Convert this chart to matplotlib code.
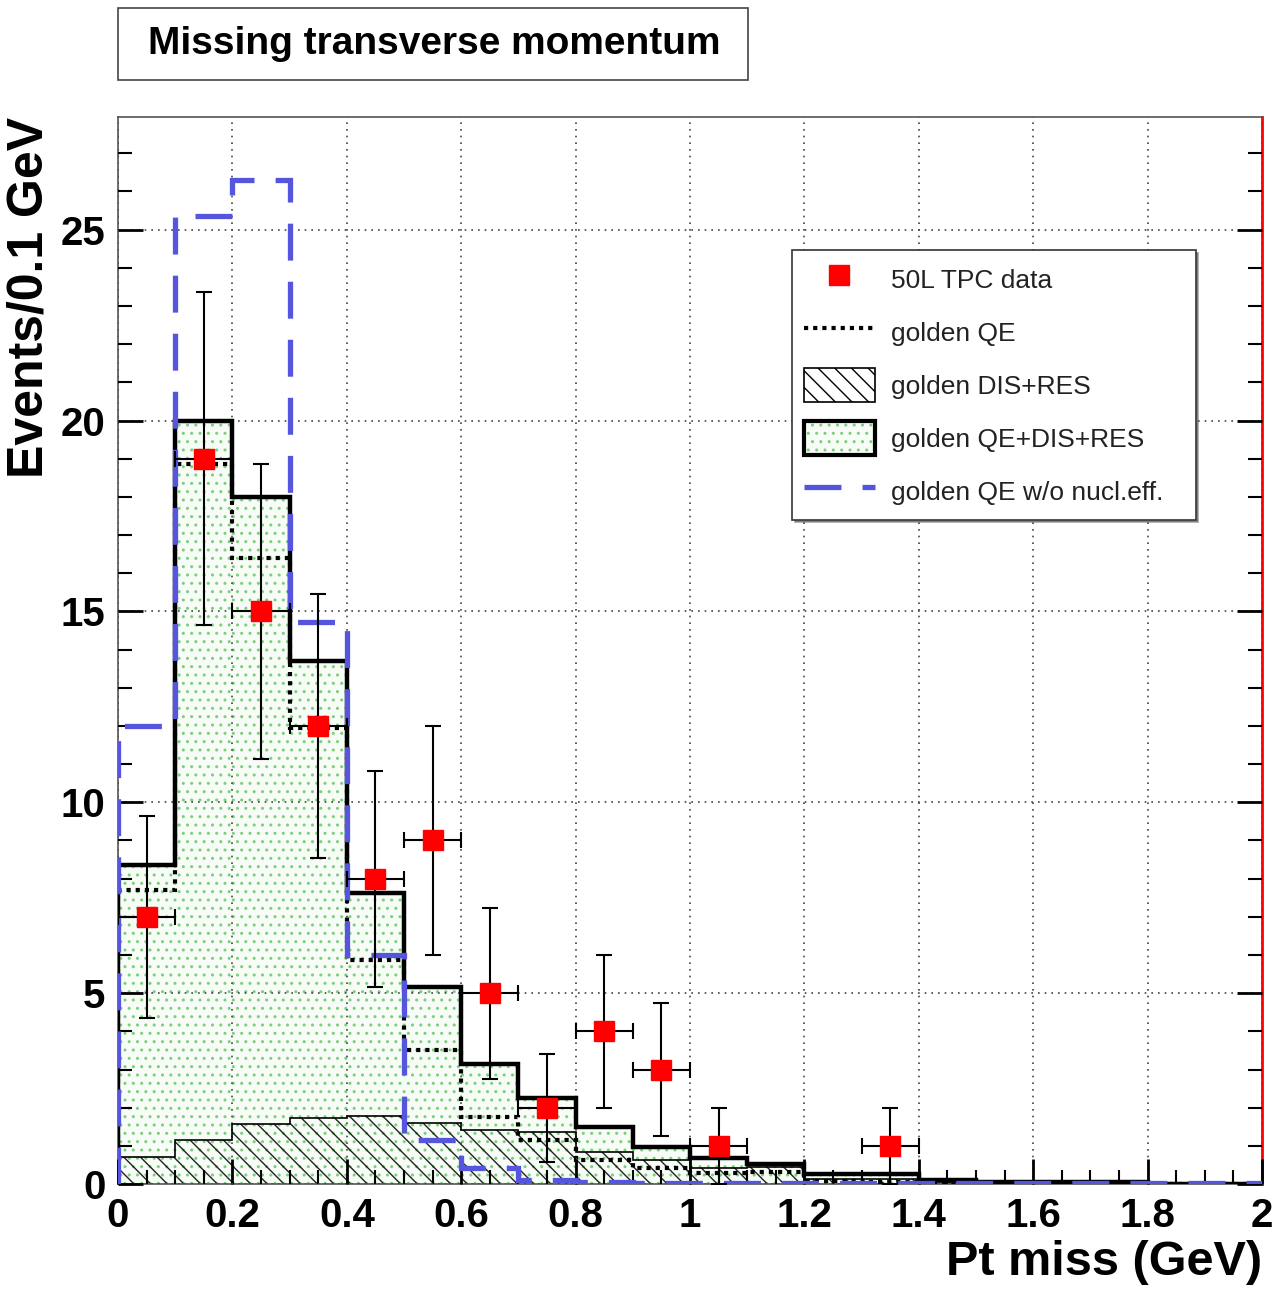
import numpy as np
import matplotlib
matplotlib.use("Agg")
import matplotlib.pyplot as plt
from matplotlib.patches import Rectangle
from matplotlib.lines import Line2D
from matplotlib.legend_handler import HandlerTuple
from matplotlib.ticker import MultipleLocator

plt.rcParams['font.family'] = ['Liberation Sans', 'DejaVu Sans']
plt.rcParams['hatch.linewidth'] = 1.0

# bin edges (GeV)
bin_edges = [0.0, 0.1, 0.2, 0.3, 0.4, 0.5, 0.6, 0.7, 0.8, 0.9, 1.0,
             1.1, 1.2, 1.3, 1.4, 1.5, 1.6, 1.7, 1.8, 1.9, 2.0]

# golden QE+DIS+RES (total)
total = [8.35, 20.0, 18.0, 13.7, 7.63, 5.16, 3.14, 2.25, 1.5, 0.97,
         0.68, 0.52, 0.26, 0.27, 0.1, 0.06, 0.05, 0.05, 0.0, 0.0]
# golden QE
qe = [7.7, 18.85, 16.4, 11.95, 5.87, 3.5, 1.75, 1.15, 0.63, 0.42,
      0.29, 0.31, 0.08, 0.06, 0.04, 0.03, 0.03, 0.02, 0.0, 0.0]
# golden DIS+RES
dis_res = [0.7, 1.15, 1.57, 1.73, 1.78, 1.6, 1.41, 1.36, 0.83, 0.63,
           0.42, 0.45, 0.12, 0.12, 0.05, 0.04, 0.03, 0.03, 0.0, 0.0]
# golden QE w/o nuclear effects
qe_nonuc = [12.0, 25.37, 26.3, 14.73, 6.0, 1.15, 0.42, 0.1, 0.04, 0.03,
            0.03, 0.03, 0.02, 0.02, 0.02, 0.02, 0.02, 0.02, 0.02, 0.02]

# 50L TPC data
data_x = [0.05, 0.15, 0.25, 0.35, 0.45, 0.55, 0.65, 0.75, 0.85, 0.95, 1.05, 1.35]
data_y = [7, 19, 15, 12, 8, 9, 5, 2, 4, 3, 1, 1]
data_err = [2.65, 4.36, 3.87, 3.46, 2.83, 3.0, 2.24, 1.41, 2.0, 1.73, 1.0, 1.0]
data_xerr = 0.05

fig = plt.figure(figsize=(12.76, 12.96), dpi=100)
ax = fig.add_axes([0.0925, 0.0864, 0.8965, 0.8233])

green = '#7ccf7c'
blue = '#5555dd'
fill_bg = '#f7fcf7'

# total: dotted green fill
ax.stairs(total, bin_edges, fill=True, facecolor=fill_bg, edgecolor=green,
          hatch='..', linewidth=0, zorder=1)
# DIS+RES hatched
ax.stairs(dis_res, bin_edges, fill=True, facecolor='none', edgecolor='#222222',
          hatch='\\\\', linewidth=0, zorder=2)
ax.stairs(dis_res, bin_edges, color='black', linewidth=1.2, zorder=3)
# QE dotted
ax.stairs(qe, bin_edges, color='black', linewidth=3, linestyle=(0, (1, 1.2)), zorder=4)
# total outline
ax.stairs(total, bin_edges, color='black', linewidth=3.2, zorder=5)
# QE without nuclear effects
ax.stairs(qe_nonuc, bin_edges, color=blue, linewidth=3.8, linestyle=(0, (7, 4)), zorder=6)

# data
ax.errorbar(data_x, data_y, yerr=data_err, xerr=data_xerr, fmt='none',
            ecolor='black', elinewidth=1.5, capsize=6, capthick=1.5, zorder=7)
ax.plot(data_x, data_y, 's', color='red', markersize=15, zorder=8)

ax.set_xlim(0, 2)
ax.set_ylim(0, 27.95)

ax.xaxis.set_major_locator(MultipleLocator(0.2))
ax.xaxis.set_minor_locator(MultipleLocator(0.05))
ax.yaxis.set_major_locator(MultipleLocator(5))
ax.yaxis.set_minor_locator(MultipleLocator(1))
ax.set_xticks([0, 0.2, 0.4, 0.6, 0.8, 1.0, 1.2, 1.4, 1.6, 1.8, 2.0])
ax.set_xticklabels(['0', '0.2', '0.4', '0.6', '0.8', '1', '1.2', '1.4', '1.6', '1.8', '2'])
ax.tick_params(axis='both', which='both', direction='in', right=True, top=False)
ax.tick_params(axis='both', which='major', length=18, width=2, labelsize=29, pad=9)
ax.tick_params(axis='both', which='minor', length=10, width=1.5)
for lab in ax.get_xticklabels() + ax.get_yticklabels():
    lab.set_fontweight('bold')

ax.grid(True, which='major', color='#444444', linestyle=(0, (1, 3)), linewidth=1.2)
ax.set_axisbelow(False)

for s in ax.spines.values():
    s.set_linewidth(1.2)
    s.set_color('#555555')
ax.spines['right'].set_color('red')
ax.spines['right'].set_linewidth(2)

ax.set_ylabel('Events/0.1 GeV', fontsize=36, fontweight='bold', loc='top', labelpad=6)
ax.set_xlabel('Pt miss (GeV)', fontsize=35, fontweight='bold', loc='right', labelpad=4)

# legend
total_handle = (Rectangle((0, 0), 1, 1, facecolor=fill_bg, edgecolor=green, hatch='..', linewidth=0),
                Rectangle((0, 0), 1, 1, facecolor='none', edgecolor='black', linewidth=3))
handles = [
    Line2D([], [], marker='s', color='red', linestyle='none', markersize=15),
    Line2D([], [], color='black', linewidth=3, linestyle=(0, (1, 1.2))),
    Rectangle((0, 0), 1, 1, facecolor='white', edgecolor='black', hatch='\\\\', linewidth=1.2),
    total_handle,
    Line2D([], [], color=blue, linewidth=3.8, linestyle=(0, (7, 4))),
]
labels = ['50L TPC data', 'golden QE', 'golden DIS+RES', 'golden QE+DIS+RES',
          'golden QE w/o nucl.eff.']
leg = ax.legend(handles, labels, loc='upper left', bbox_to_anchor=(0.589, 0.875, 0.353, 0),
                mode='expand', borderaxespad=0, fontsize=19, frameon=True, fancybox=False,
                shadow=True, handlelength=2.7, handleheight=1.6, labelspacing=0.72,
                borderpad=0.45, handletextpad=0.6,
                handler_map={tuple: HandlerTuple(ndivide=1, pad=0)})
leg.get_frame().set_edgecolor('#333333')
leg.get_frame().set_linewidth(1.2)
leg.set_zorder(20)
for t in leg.get_texts():
    t.set_color('#222222')

# title box
fig.patches.append(Rectangle((0.0925, 0.9383), 0.4937, 0.0555, transform=fig.transFigure,
                             facecolor='white', edgecolor='#444444', linewidth=1.2))
fig.text(0.116, 0.966, 'Missing transverse momentum', fontsize=28, fontweight='bold',
         ha='left', va='center')

fig.savefig('out.png', dpi=100)
